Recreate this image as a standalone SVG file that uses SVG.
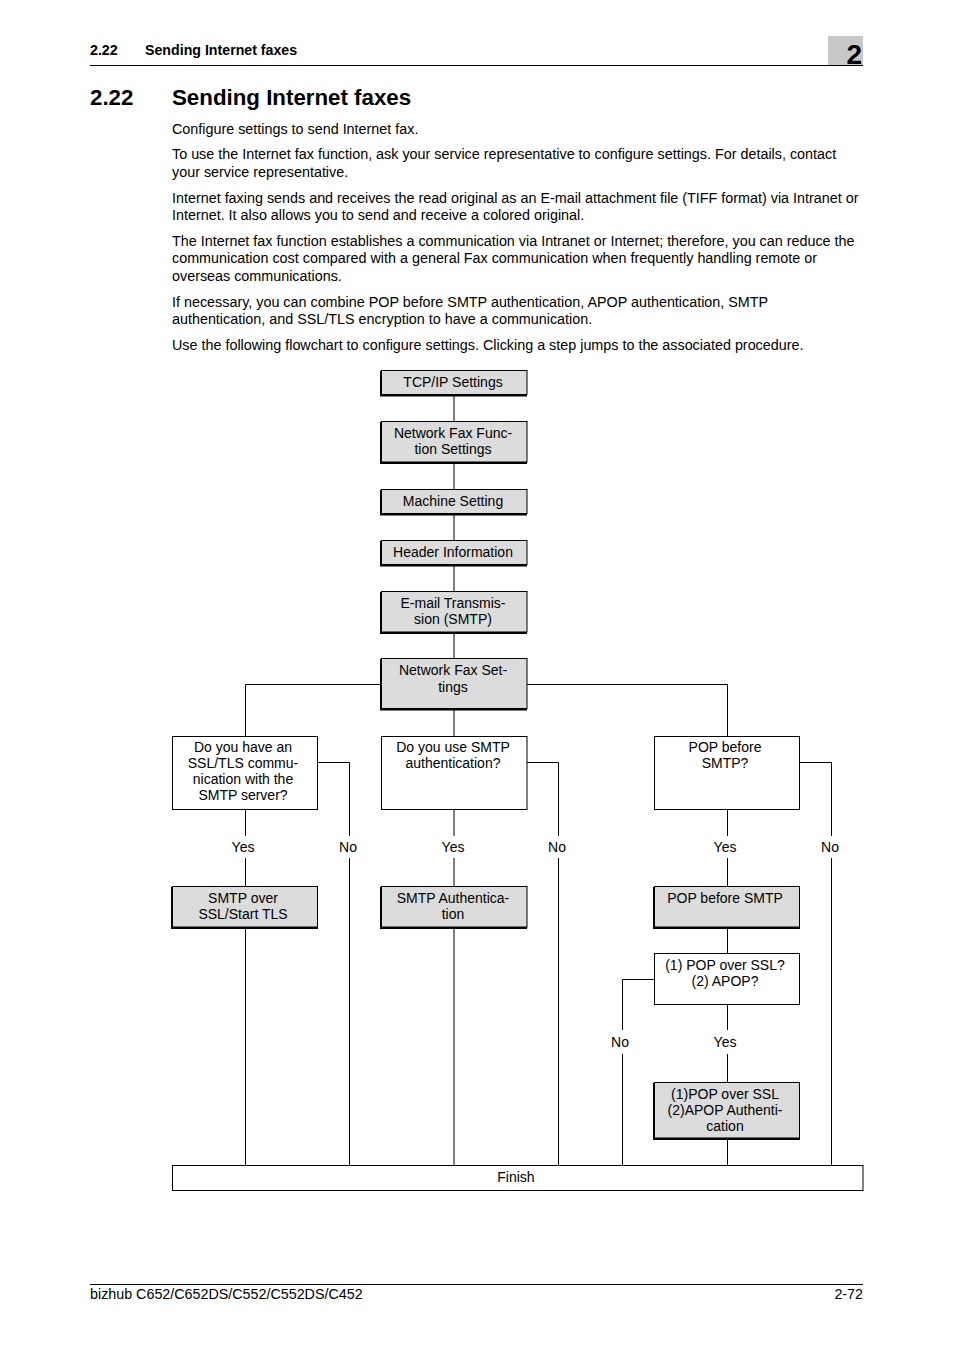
<svg xmlns="http://www.w3.org/2000/svg" width="954" height="1350" viewBox="0 0 954 1350">
<style>
text{font-family:"Liberation Sans",Arial,sans-serif;fill:#000}
.b{font-size:14.35px}
.h{font-size:14.2px;font-weight:bold}
.t{font-size:22.3px;font-weight:bold}
.f{font-size:14px;text-anchor:middle}
.ft{font-size:14.3px}
.gray rect.main{fill:#dcdcdc;stroke:#000;stroke-width:1}
.gray rect.sh{fill:#000}
.white rect{fill:#fff;stroke:#000;stroke-width:1}
.c line,.c polyline{stroke:#000;stroke-width:1;fill:none}
</style>
<!-- header -->
<text class="h" x="90" y="55">2.22</text>
<text class="h" x="145" y="55">Sending Internet faxes</text>
<rect x="828" y="36" width="35" height="29" fill="#c8c8c8"/>
<text x="862" y="64" text-anchor="end" style="font-size:28px;font-weight:bold">2</text>
<line x1="90" y1="65.5" x2="863" y2="65.5" stroke="#000" stroke-width="1"/>
<text class="t" x="90" y="105">2.22</text>
<text class="t" x="172" y="105">Sending Internet faxes</text>
<!-- body -->
<text class="b" x="172" y="134">Configure settings to send Internet fax.</text>
<text class="b" x="172" y="159">To use the Internet fax function, ask your service representative to configure settings. For details, contact</text>
<text class="b" x="172" y="177">your service representative.</text>
<text class="b" x="172" y="203">Internet faxing sends and receives the read original as an E-mail attachment file (TIFF format) via Intranet or</text>
<text class="b" x="172" y="220">Internet. It also allows you to send and receive a colored original.</text>
<text class="b" x="172" y="246">The Internet fax function establishes a communication via Intranet or Internet; therefore, you can reduce the</text>
<text class="b" x="172" y="263">communication cost compared with a general Fax communication when frequently handling remote or</text>
<text class="b" x="172" y="281">overseas communications.</text>
<text class="b" x="172" y="307">If necessary, you can combine POP before SMTP authentication, APOP authentication, SMTP</text>
<text class="b" x="172" y="324">authentication, and SSL/TLS encryption to have a communication.</text>
<text class="b" x="172" y="350">Use the following flowchart to configure settings. Clicking a step jumps to the associated procedure.</text>
<!-- connectors -->
<g class="c" id="connectors">
<line x1="454" y1="395" x2="454" y2="421"/>
<line x1="454" y1="463" x2="454" y2="489"/>
<line x1="454" y1="514" x2="454" y2="540"/>
<line x1="454" y1="565" x2="454" y2="591"/>
<line x1="454" y1="633" x2="454" y2="658"/>
<polyline points="381,684.5 245.5,684.5 245.5,736"/>
<polyline points="527,684.5 727.5,684.5 727.5,736"/>
<line x1="454" y1="710" x2="454" y2="736"/>
<line x1="245.5" y1="810" x2="245.5" y2="836"/>
<line x1="245.5" y1="858" x2="245.5" y2="886"/>
<line x1="245.5" y1="928" x2="245.5" y2="1165"/>
<polyline points="318,762.5 349.5,762.5 349.5,836"/>
<line x1="349.5" y1="858" x2="349.5" y2="1165"/>
<line x1="454" y1="810" x2="454" y2="836"/>
<line x1="454" y1="858" x2="454" y2="886"/>
<line x1="454" y1="928" x2="454" y2="1165"/>
<polyline points="527,762.5 558.5,762.5 558.5,836"/>
<line x1="558.5" y1="858" x2="558.5" y2="1165"/>
<line x1="727.5" y1="810" x2="727.5" y2="836"/>
<line x1="727.5" y1="858" x2="727.5" y2="886"/>
<line x1="727.5" y1="928" x2="727.5" y2="953"/>
<polyline points="800,762.5 831.5,762.5 831.5,836"/>
<line x1="831.5" y1="858" x2="831.5" y2="1165"/>
<line x1="727.5" y1="1005" x2="727.5" y2="1030"/>
<line x1="727.5" y1="1054" x2="727.5" y2="1082"/>
<polyline points="654,979.5 622.5,979.5 622.5,1030"/>
<line x1="622.5" y1="1054" x2="622.5" y2="1165"/>
<line x1="727.5" y1="1139" x2="727.5" y2="1165"/>
</g>
<!-- labels -->
<g id="labels">
<text class="f" x="243" y="852">Yes</text>
<text class="f" x="348" y="852">No</text>
<text class="f" x="453" y="852">Yes</text>
<text class="f" x="557" y="852">No</text>
<text class="f" x="725" y="852">Yes</text>
<text class="f" x="830" y="852">No</text>
<text class="f" x="620" y="1047">No</text>
<text class="f" x="725" y="1047">Yes</text>
</g>
<!-- nodes -->
<g id="n1" class="gray"><rect class="sh" x="380" y="371" width="147" height="25.5"/><rect class="main" x="381.5" y="370.5" width="145.5" height="24"/><text class="f" x="453" y="387">TCP/IP Settings</text></g>
<g id="n2" class="gray"><rect class="sh" x="380" y="422" width="147" height="42"/><rect class="main" x="381.5" y="421.5" width="145.5" height="40.5"/><text class="f" x="453" y="438">Network Fax Func-</text><text class="f" x="453" y="454">tion Settings</text></g>
<g id="n3" class="gray"><rect class="sh" x="380" y="490" width="147" height="25.5"/><rect class="main" x="381.5" y="489.5" width="145.5" height="24"/><text class="f" x="453" y="506">Machine Setting</text></g>
<g id="n4" class="gray"><rect class="sh" x="380" y="541" width="147" height="25.5"/><rect class="main" x="381.5" y="540.5" width="145.5" height="24"/><text class="f" x="453" y="557">Header Information</text></g>
<g id="n5" class="gray"><rect class="sh" x="380" y="592" width="147" height="42"/><rect class="main" x="381.5" y="591.5" width="145.5" height="40.5"/><text class="f" x="453" y="608">E-mail Transmis-</text><text class="f" x="453" y="624">sion (SMTP)</text></g>
<g id="n6" class="gray"><rect class="sh" x="380" y="659" width="147" height="51.5"/><rect class="main" x="381.5" y="658.5" width="145.5" height="50"/><text class="f" x="453" y="675">Network Fax Set-</text><text class="f" x="453" y="692">tings</text></g>
<g id="d1" class="white"><rect x="172.5" y="736.5" width="145" height="73"/><text class="f" x="243" y="752">Do you have an</text><text class="f" x="243" y="768">SSL/TLS commu-</text><text class="f" x="243" y="784">nication with the</text><text class="f" x="243" y="800">SMTP server?</text></g>
<g id="d2" class="white"><rect x="381.5" y="736.5" width="145.5" height="73"/><text class="f" x="453" y="752">Do you use SMTP</text><text class="f" x="453" y="768">authentication?</text></g>
<g id="d3" class="white"><rect x="654.5" y="736.5" width="145" height="73"/><text class="f" x="725" y="752">POP before</text><text class="f" x="725" y="768">SMTP?</text></g>
<g id="p1" class="gray"><rect class="sh" x="171" y="887" width="147" height="42"/><rect class="main" x="172.5" y="886.5" width="145" height="40.5"/><text class="f" x="243" y="903">SMTP over</text><text class="f" x="243" y="919">SSL/Start TLS</text></g>
<g id="p2" class="gray"><rect class="sh" x="380" y="887" width="147" height="42"/><rect class="main" x="381.5" y="886.5" width="145.5" height="40.5"/><text class="f" x="453" y="903">SMTP Authentica-</text><text class="f" x="453" y="919">tion</text></g>
<g id="p3" class="gray"><rect class="sh" x="653" y="887" width="147" height="42"/><rect class="main" x="654.5" y="886.5" width="145" height="40.5"/><text class="f" x="725" y="903">POP before SMTP</text></g>
<g id="d4" class="white"><rect x="654.5" y="953.5" width="145" height="51"/><text class="f" x="725" y="970">(1) POP over SSL?</text><text class="f" x="725" y="986">(2) APOP?</text></g>
<g id="p4" class="gray"><rect class="sh" x="653" y="1083" width="147" height="57"/><rect class="main" x="654.5" y="1082.5" width="145" height="55.5"/><text class="f" x="725" y="1099">(1)POP over SSL</text><text class="f" x="725" y="1115">(2)APOP Authenti-</text><text class="f" x="725" y="1131">cation</text></g>
<g id="finish" class="white"><rect x="172.5" y="1165.5" width="690.5" height="25"/><text class="f" x="516" y="1182">Finish</text></g>
<!-- footer -->
<line x1="90" y1="1284.5" x2="863" y2="1284.5" stroke="#000" stroke-width="1"/>
<text class="ft" x="90" y="1299">bizhub C652/C652DS/C552/C552DS/C452</text>
<text class="ft" x="863" y="1299" text-anchor="end">2-72</text>
</svg>
